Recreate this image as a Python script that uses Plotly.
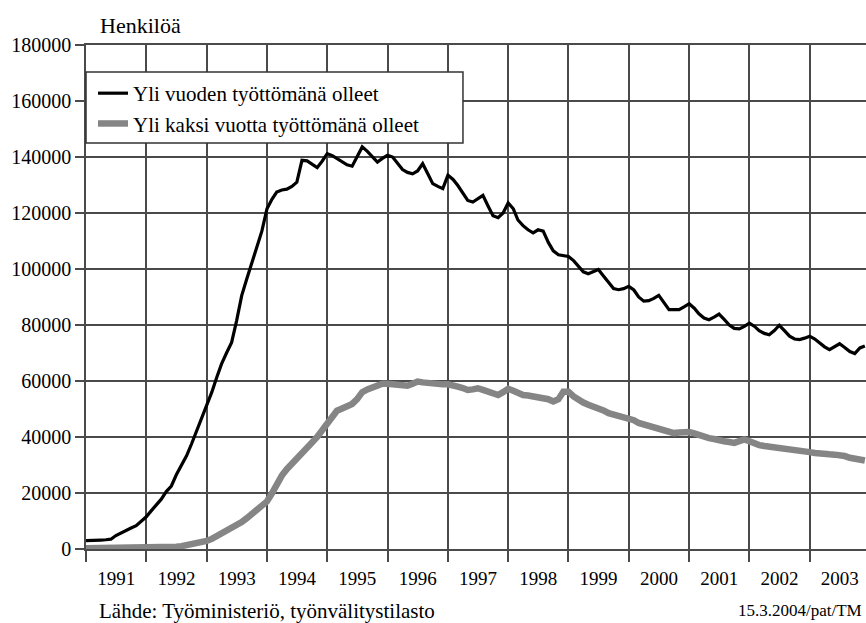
import pandas as pd
import plotly.graph_objects as go

# monthly values, Jan 1991 - Dec 2003, one row per year
yli_vuoden = [
    3000, 3000, 3100, 3200, 3300, 3500, 4800, 5800, 6800, 7500, 8300, 9800,
    11500, 13700, 15800, 17800, 20500, 22500, 26500, 30000, 33300, 37500, 42000, 46500,
    51000, 56000, 61000, 66100, 70000, 73800, 81500, 90500, 96500, 102000, 107500, 113500,
    121500, 125000, 127500, 128200, 128500, 129500, 131000, 138800, 138600, 137500, 136200, 138500,
    141200, 140500, 139400, 138300, 137200, 136700, 140000, 143600, 142000, 140000, 138200, 139500,
    140600, 140000, 138000, 135500, 134500, 134000, 135000, 137600, 134000, 130500, 129500, 128700,
    133500, 132000, 129900, 127000, 124500, 123900, 125000, 126300, 122500, 119000, 118300, 120000,
    123600, 121500, 117500, 115500, 114000, 112900, 114000, 113500, 109500, 106500, 105100, 104800,
    104500, 103000, 101000, 99000, 98300, 99200, 99800, 97500, 95000, 93000, 92600, 93000,
    93800, 92500, 90000, 88500, 88700, 89500, 90600, 88000, 85500, 85500, 85500, 86500,
    87600, 86000, 84000, 82500, 81900, 82800, 83900, 82000, 80000, 78800, 78600, 79500,
    80700, 79500, 78000, 77000, 76500, 78000, 79900, 78000, 76000, 75000, 74800, 75300,
    76000, 75000, 73500, 72200, 71200, 72300, 73300, 72000, 70500, 69800, 71800, 72500,
]

yli_kaksi = [
    300, 300, 300, 300, 300, 300, 300, 300, 300, 300, 300, 300,
    300, 350, 400, 450, 500, 650, 800, 1000, 1300, 1600, 2000, 2400,
    2900, 3600, 4500, 5400, 6300, 7300, 8300, 9600, 11000, 12600, 14200, 15200,
    17000, 20000, 23200, 26200, 28500, 30600, 32500, 34000, 36000, 38000, 40000, 42500,
    45200, 47500, 49400, 50200, 51000, 51800, 53500, 56000, 57000, 57800, 58500, 59000,
    59000, 58800, 58500, 58300, 58300, 59000, 59800, 59500, 59200, 59000, 59000, 58800,
    58800, 58600, 58000, 57500, 56800, 57000, 57400, 56800, 56000, 55500, 55000, 56000,
    57200, 56500, 55500, 55000, 54800, 54600, 54300, 54100, 53500, 52700, 53500, 56200,
    56200, 54500, 53300, 52300, 51500, 50900, 50300, 49500, 48500, 48000, 47600, 47300,
    46800, 46000, 45000, 44500, 44200, 43800, 43300, 42600, 41800, 41400, 41600, 41800,
    41800, 41300, 40600, 39900, 39600, 39300, 38700, 38500, 38200, 37900, 38500, 39100,
    38500, 37600, 37100, 36800, 36600, 36300, 36300, 36000, 35700, 35500, 35500, 35000,
    34600, 34300, 34300, 34000, 33800, 33700, 33700, 33200, 32600, 32200, 31900, 31600,
]

kuukaudet = pd.date_range("1991-01-01", periods=len(yli_vuoden), freq="MS")

GRID = "#4a4a4a"
SERIF = "Liberation Serif"

fig = go.Figure()
fig.add_trace(go.Scatter(
    x=kuukaudet, y=yli_kaksi, mode="lines",
    name="Yli kaksi vuotta työttömänä olleet",
    line=dict(color="#858585", width=6.5),
    legendrank=2,
))
fig.add_trace(go.Scatter(
    x=kuukaudet, y=yli_vuoden, mode="lines",
    name="Yli vuoden työttömänä olleet",
    line=dict(color="black", width=3.2),
    legendrank=1,
))

fig.update_layout(
    width=866,
    height=623,
    margin=dict(l=86, r=0, t=45, b=74),
    paper_bgcolor="white",
    plot_bgcolor="white",
    font=dict(family=SERIF, color="black"),
    legend=dict(
        x=0.009, y=0.9444, xanchor="left", yanchor="top",
        bgcolor="rgba(0,0,0,0)", borderwidth=0,
        font=dict(size=21, family=SERIF),
    ),
    shapes=[dict(
        type="rect", xref="paper", yref="paper",
        x0=0, x1=0.4833, y0=0.8056, y1=0.9464,
        line=dict(color="#333", width=1.5),
        fillcolor="white", layer="above",
    )],
    annotations=[
        dict(text="Henkilöä", xref="paper", yref="paper", x=0.0154, y=1.0377,
             xanchor="left", yanchor="middle", showarrow=False, font=dict(size=22)),
        dict(text="Lähde: Työministeriö, työnvälitystilasto", xref="paper", yref="paper",
             x=0.0141, y=-0.123, xanchor="left", yanchor="middle", showarrow=False,
             font=dict(size=21)),
        dict(text="15.3.2004/pat/TM", xref="paper", yref="paper", x=0.9974, y=-0.123,
             xanchor="right", yanchor="middle", showarrow=False, font=dict(size=17)),
    ],
)

fig.update_xaxes(
    type="date",
    range=["1991-01-01", "2003-12-08"],
    tick0="1991-01-01", dtick="M12",
    ticklabelmode="period", tickformat="%Y",
    ticks="outside", ticklen=11, tickwidth=1.5, tickcolor=GRID,
    showgrid=True, gridcolor=GRID, gridwidth=1.5,
    showline=True, linecolor=GRID, linewidth=1.5, mirror=True,
    tickfont=dict(size=19),
)
fig.update_yaxes(
    range=[0, 180000], tick0=0, dtick=20000, tickformat="d",
    ticks="outside", ticklen=9, tickwidth=1.5, tickcolor=GRID,
    showgrid=True, gridcolor=GRID, gridwidth=1.5, zeroline=False,
    showline=True, linecolor=GRID, linewidth=1.5,
    tickfont=dict(size=20),
)

# drop the default page margin so the figure sits at the window's corner
fig.write_html(
    "out.html",
    config={"displayModeBar": False},
    post_script="document.body.style.margin='0';",
)
